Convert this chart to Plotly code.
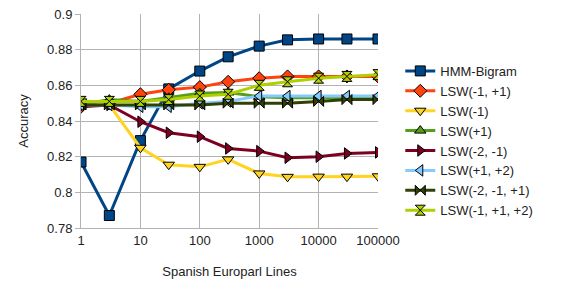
import plotly.graph_objects as go

lines = [1, 3, 10, 30, 100, 300, 1000, 3000, 10000, 30000, 100000]

hmm_bigram = [0.817, 0.787, 0.829, 0.858, 0.868, 0.876, 0.882, 0.8855, 0.886, 0.886, 0.886]
lsw_m1_p1 = [0.848, 0.850, 0.855, 0.8575, 0.859, 0.862, 0.864, 0.865, 0.865, 0.865, 0.865]
lsw_m1 = [0.851, 0.849, 0.825, 0.8155, 0.8143, 0.8185, 0.8106, 0.8087, 0.8088, 0.8088, 0.809]
lsw_p1 = [0.849, 0.852, 0.851, 0.853, 0.8555, 0.856, 0.8536, 0.853, 0.853, 0.853, 0.8535]
lsw_m2_m1 = [0.848, 0.849, 0.8396, 0.8334, 0.8312, 0.8246, 0.8231, 0.8194, 0.820, 0.8218, 0.8224]
lsw_p1_p2 = [0.849, 0.849, 0.848, 0.848, 0.850, 0.851, 0.854, 0.854, 0.854, 0.854, 0.854]
lsw_m2_m1_p1 = [0.849, 0.849, 0.849, 0.849, 0.849, 0.850, 0.850, 0.850, 0.851, 0.852, 0.852]
lsw_m1_p1_p2 = [0.851, 0.851, 0.851, 0.852, 0.854, 0.855, 0.860, 0.862, 0.864, 0.865, 0.866]

series = [
    ("HMM-Bigram", hmm_bigram, "#004586", "square"),
    ("LSW(-1, +1)", lsw_m1_p1, "#ff420e", "diamond"),
    ("LSW(-1)", lsw_m1, "#ffd320", "triangle-down"),
    ("LSW(+1)", lsw_p1, "#579d1c", "triangle-up"),
    ("LSW(-2, -1)", lsw_m2_m1, "#7e0021", "triangle-right"),
    ("LSW(+1, +2)", lsw_p1_p2, "#83caff", "triangle-left"),
    ("LSW(-2, -1, +1)", lsw_m2_m1_p1, "#314004", "bowtie"),
    ("LSW(-1, +1, +2)", lsw_m1_p1_p2, "#aecf00", "hourglass"),
]

tick_x = [1, 10, 100, 1000, 10000, 100000]
tick_x_text = ["1", "10", "100", "1000", "10000", "100000"]
tick_y = [0.78, 0.8, 0.82, 0.84, 0.86, 0.88, 0.9]
tick_y_text = ["0.78", "0.8", "0.82", "0.84", "0.86", "0.88", "0.9"]

fig = go.Figure()
for name, vals, color, sym in series:
    fig.add_trace(go.Scatter(
        x=lines, y=vals, name=name, mode="lines+markers",
        line=dict(color=color, width=3),
        marker=dict(symbol=sym, size=10, color=color, line=dict(color="black", width=1)),
    ))

fig.update_layout(
    width=576, height=288,
    margin=dict(l=73, r=206, t=6, b=68, autoexpand=False),
    paper_bgcolor="white", plot_bgcolor="white",
    font=dict(family="Liberation Sans, Arial, sans-serif", size=13, color="#222222"),
    legend=dict(x=1.075, y=0.804, xanchor="left", yanchor="top",
                font=dict(size=13), tracegroupgap=0, itemwidth=30),
    showlegend=True,
)
fig.update_xaxes(
    type="log", range=[0, 5], tickvals=tick_x, ticktext=tick_x_text,
    showgrid=True, gridcolor="#b3b3b3", gridwidth=1, automargin=False,
    showline=True, linecolor="#b3b3b3", ticks="", zeroline=False,
    ticklabeloverflow="allow",
    title=dict(text="Spanish Europarl Lines", font=dict(size=13), standoff=20),
)
fig.update_yaxes(
    range=[0.78, 0.9], tickvals=tick_y, ticktext=tick_y_text,
    showgrid=True, gridcolor="#b3b3b3", gridwidth=1, automargin=False,
    showline=True, linecolor="#b3b3b3", ticks="outside", ticklen=5, tickcolor="#b3b3b3",
    zeroline=False, ticklabeloverflow="allow",
    title=dict(text="Accuracy", font=dict(size=13)),
)

fig.write_html("out.html")
